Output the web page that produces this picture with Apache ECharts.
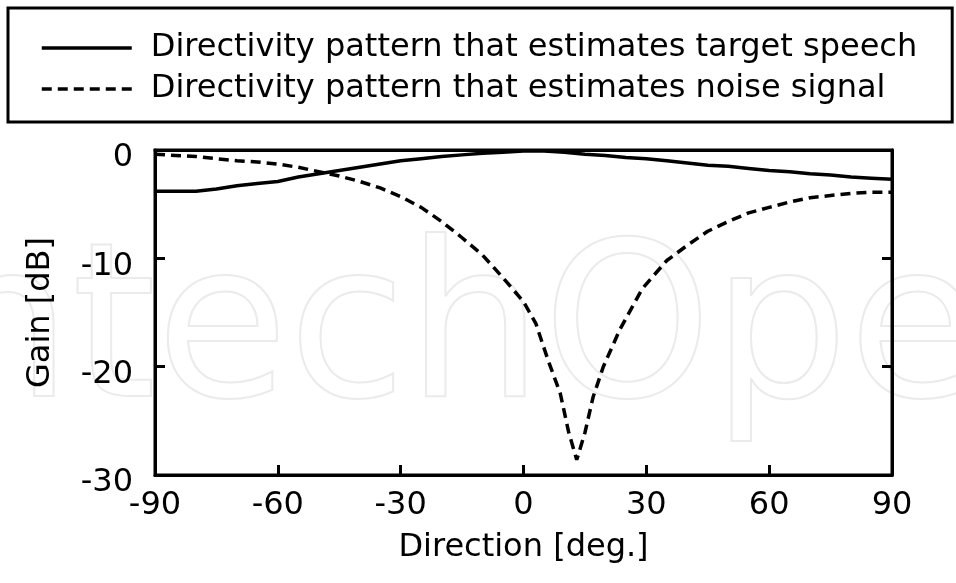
<!DOCTYPE html>
<html>
<head>
    <meta charset="UTF-8">
    <title>directivity</title>
    <script src="https://cdn.jsdelivr.net/npm/echarts@6/dist/echarts.min.js"></script>
    <style>
        *{margin:0;padding:0}
        html,body{width:100%;height:100%;background:#fff}
        #main{width:956px;height:583px}
    </style>
</head>
<body>
    <div id="main"></div>
    <script type="text/javascript">
        var legendNames = ['Directivity pattern that estimates target speech',
                           'Directivity pattern that estimates noise signal'];
        var xTicks = [-90, -60, -30, 0, 30, 60, 90];
        var yTicks = [0, -10, -20, -30];

        // target speech (solid)
        var targetDeg  = [-90, -80, -75, -70, -65, -60, -55, -50, -45, -40, -35, -30, -25, -20, -15, -10, -5, 0, 5, 10, 15, 20, 25, 30, 35, 40, 45, 50, 55, 60, 65, 70, 75, 80, 85, 90];
        var targetGain = [-3.8, -3.8, -3.6, -3.3, -3.1, -2.9, -2.5, -2.2, -1.9, -1.6, -1.3, -1.0, -0.8, -0.6, -0.45, -0.3, -0.2, -0.1, -0.1, -0.2, -0.4, -0.5, -0.7, -0.8, -1.0, -1.2, -1.4, -1.5, -1.7, -1.9, -2.0, -2.2, -2.3, -2.5, -2.6, -2.7];

        // noise signal (dashed)
        var noiseDeg  = [-90, -85, -80, -75, -70, -65, -60, -55, -50, -45, -40, -35, -30, -25, -20, -15, -10, -5, 0, 3, 6, 9, 11, 13, 15, 17, 19.5, 23.5, 29, 35, 40, 45, 50, 55, 60, 65, 70, 75, 80, 85, 90];
        var noiseGain = [-0.4, -0.5, -0.6, -0.8, -1.0, -1.1, -1.3, -1.6, -2.0, -2.4, -2.9, -3.5, -4.3, -5.3, -6.6, -8.1, -9.7, -11.8, -14.0, -16.0, -19.4, -22.5, -26.0, -28.6, -26.1, -22.8, -20.0, -16.6, -12.8, -10.2, -8.8, -7.5, -6.6, -5.8, -5.3, -4.8, -4.4, -4.2, -4.0, -3.9, -3.9];

        function pairs(xs, ys) {
            return xs.map(function (x, i) { return [x, ys[i]]; });
        }

        var font = 'DejaVu Sans';
        var blackLine = {show: true, onZero: false, lineStyle: {color: '#000', width: 3}};
        var myChart = echarts.init(document.getElementById('main'));
        option = {
            backgroundColor: '#fff',
            animation: false,
            textStyle: {fontFamily: font, color: '#000'},
            graphic: [{
                type: 'text',
                left: -129, top: 232,
                z: -10,
                silent: true,
                style: {
                    text: 'IntechOpen',
                    font: '215px ' + font,
                    fill: 'rgba(0,0,0,0)',
                    stroke: '#ebebeb',
                    lineWidth: 2
                }
            }],
            legend: {
                orient: 'vertical',
                left: 8, top: 8,
                padding: [24, 35, 17, 32],
                borderColor: '#000',
                borderWidth: 3,
                borderRadius: 0,
                itemWidth: 90,
                itemHeight: 32,
                itemGap: 9,
                data: legendNames,
                itemStyle: {opacity: 0},
                lineStyle: {width: 3.5},
                textStyle: {fontSize: 32, fontFamily: font, color: '#000', padding: [0, 0, 0, 14]}
            },
            grid: {
                left: 155, right: 64, top: 150, bottom: 108,
                show: true, borderColor: '#000', borderWidth: 3
            },
            xAxis: [{
                type: 'value', min: -90, max: 90, interval: 30, position: 'bottom',
                name: 'Direction [deg.]', nameLocation: 'middle', nameGap: 57,
                nameTextStyle: {fontSize: 32, fontFamily: font, color: '#000'},
                axisLine: blackLine,
                axisTick: {show: true, inside: true, length: 10, lineStyle: {color: '#000', width: 3}},
                axisLabel: {fontSize: 32, color: '#000', margin: 15,
                    formatter: function (v) { return xTicks.indexOf(v) >= 0 ? String(v) : ''; }},
                splitLine: {show: false}
            }, {
                type: 'value', min: -90, max: 90, interval: 30, position: 'top',
                axisLine: blackLine,
                axisTick: {show: false}, axisLabel: {show: false}, splitLine: {show: false}
            }],
            yAxis: [{
                type: 'value', min: -30, max: 0, interval: 10, position: 'left',
                name: 'Gain [dB]', nameLocation: 'middle', nameGap: 98, nameRotate: 90,
                nameTextStyle: {fontSize: 32, fontFamily: font, color: '#000'},
                axisLine: blackLine,
                axisTick: {show: true, inside: true, length: 10, lineStyle: {color: '#000', width: 3}},
                axisLabel: {fontSize: 32, color: '#000', margin: 22, verticalAlign: 'top', lineHeight: 16,
                    formatter: function (v) { return yTicks.indexOf(v) >= 0 ? String(v) : ''; }},
                splitLine: {show: false}
            }, {
                type: 'value', min: -30, max: 0, interval: 10, position: 'right',
                axisLine: blackLine,
                axisTick: {show: true, inside: true, length: 10, lineStyle: {color: '#000', width: 3}},
                axisLabel: {show: false}, splitLine: {show: false}
            }],
            series: [{
                name: legendNames[0],
                type: 'line',
                data: pairs(targetDeg, targetGain),
                symbol: 'none',
                lineStyle: {color: '#000', width: 3.5, type: 'solid'},
                itemStyle: {color: '#000'}
            }, {
                name: legendNames[1],
                type: 'line',
                data: pairs(noiseDeg, noiseGain),
                symbol: 'none',
                lineStyle: {color: '#000', width: 3.5, type: [10, 6]},
                itemStyle: {color: '#000'}
            }]
        };
        myChart.setOption(option);
    </script>
</body>
</html>
